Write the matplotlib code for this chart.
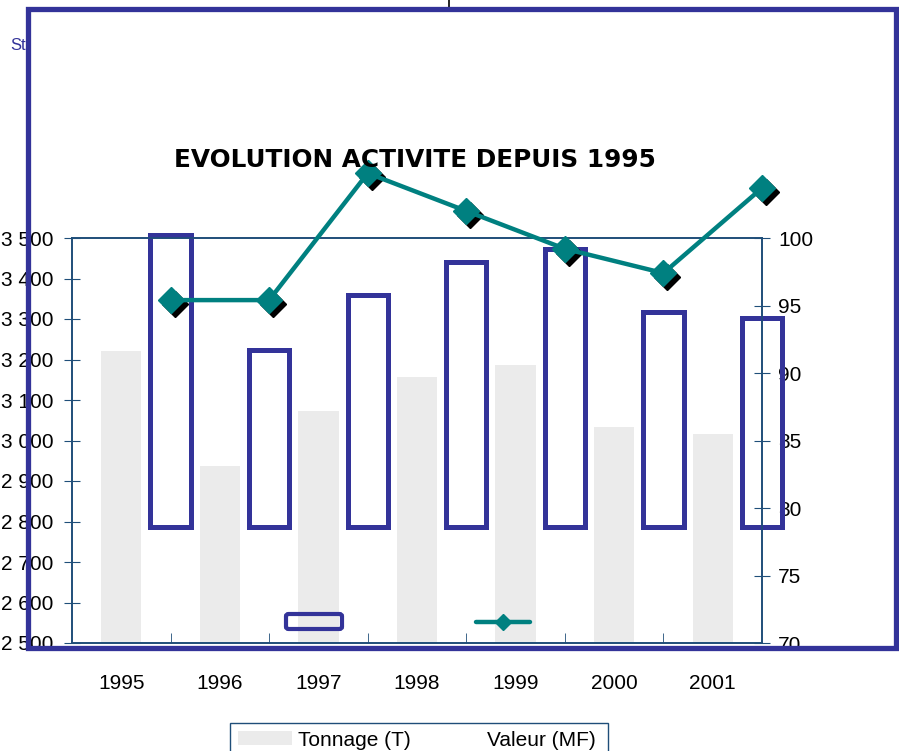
import numpy as np
import matplotlib.pyplot as plt
from matplotlib.patches import Rectangle, FancyBboxPatch
from matplotlib.lines import Line2D
from matplotlib.ticker import FuncFormatter
import matplotlib.transforms as mtransforms

plt.rcParams['font.family'] = ['Liberation Sans', 'DejaVu Sans']

years = ['1995', '1996', '1997', '1998', '1999', '2000', '2001']
tonnage = [3221, 2937, 3073, 3157, 3186, 3033, 3016]
valeur = [95.4, 95.4, 104.8, 102.0, 99.2, 97.4, 103.7]
box_top = [100.2, 91.7, 95.8, 98.2, 99.2, 94.5, 94.1]
box_base = 78.6

blue = '#333399'
axcol = '#1f4e79'
teal = '#008080'

W, H = 899, 751
fig = plt.figure(figsize=(W / 100, H / 100), dpi=100)

def fx(px):
    return px / W

def fy(py):
    return 1 - py / H

ax = fig.add_axes([fx(72), fy(643), fx(762) - fx(72), fy(238) - fy(643)])
x = np.arange(len(years))

ax.bar(x, tonnage, width=0.41, color='#ebebeb', bottom=0, zorder=1)
ax.set_xlim(-0.5, len(years) - 0.5)
ax.set_ylim(2500, 3500)
ax.set_yticks(np.arange(2500, 3501, 100))
ax.yaxis.set_major_formatter(FuncFormatter(lambda v, p: '{:,.0f}'.format(v).replace(',', ' ')))
ax.set_xticks(x)
ax.set_xticklabels(years)
ax.set_xticks(x[:-1] + 0.5, minor=True)
ax.tick_params(axis='x', which='major', length=0, pad=22, labelsize=15)
ax.tick_params(axis='x', which='minor', direction='in', length=7, color=axcol)
ax.tick_params(axis='y', direction='inout', length=11, color=axcol, labelsize=15, pad=8)
for s in ax.spines.values():
    s.set_color(axcol)
    s.set_linewidth(1.2)

ax2 = ax.twinx()
ax2.set_ylim(70, 100)
ax2.set_yticks(np.arange(70, 101, 5))
ax2.tick_params(axis='y', direction='inout', length=11, color=axcol, labelsize=15, pad=6)
for s in ax2.spines.values():
    s.set_color(axcol)
    s.set_linewidth(1.2)

heights = [t - box_base for t in box_top]
ax2.bar(x + 0.5, heights, bottom=box_base, width=0.41, facecolor='none',
        edgecolor=blue, linewidth=3.6, clip_on=False, zorder=2)

shadow = mtransforms.offset_copy(ax2.transData, fig=fig, x=4, y=-4, units='dots')
ax2.plot(x + 0.5, valeur, linestyle='none', marker='D', markersize=13,
         color='black', transform=shadow, clip_on=False, zorder=3)
ax2.plot(x + 0.5, valeur, color=teal, linewidth=3.2, marker='D', markersize=13,
         markeredgecolor=teal, clip_on=False, zorder=4)

# title
fig.text(fx(415), fy(160), 'EVOLUTION ACTIVITE DEPUIS 1995', ha='center', va='center',
         fontsize=17.8, fontweight='bold', family='DejaVu Sans')

# misplaced legend keys inside the plot
fig.patches.append(FancyBboxPatch((fx(286), fy(629)), fx(342) - fx(286), fy(614) - fy(629),
                                  boxstyle='round,pad=0,rounding_size=0.003', transform=fig.transFigure,
                                  facecolor='none', edgecolor=blue, linewidth=3))
fig.lines.append(Line2D([fx(476), fx(530)], [fy(622), fy(622)], transform=fig.transFigure,
                        color=teal, linewidth=3.2, solid_capstyle='round'))
fig.lines.append(Line2D([fx(503)], [fy(622)], transform=fig.transFigure, marker='D',
                        markersize=8, color=teal))

# outer frame
fig.patches.append(Rectangle((fx(28), fy(648)), fx(896) - fx(28), fy(9) - fy(648),
                             transform=fig.transFigure, facecolor='none',
                             edgecolor=blue, linewidth=3.8, zorder=5))
fig.text(fx(10), fy(45), 'St', color=blue, fontsize=12, va='center', ha='left')
fig.lines.append(Line2D([fx(449), fx(449)], [fy(0), fy(7)], transform=fig.transFigure,
                        color='black', linewidth=1.2))

# bottom legend
fig.patches.append(Rectangle((fx(230), fy(755)), fx(608) - fx(230), fy(723) - fy(755),
                             transform=fig.transFigure, facecolor='white',
                             edgecolor=axcol, linewidth=1))
fig.patches.append(Rectangle((fx(238), fy(745)), fx(292) - fx(238), fy(731) - fy(745),
                             transform=fig.transFigure, facecolor='#ebebeb', edgecolor='none'))
fig.text(fx(298), fy(740), 'Tonnage (T)', fontsize=15, va='center', ha='left')
fig.text(fx(487), fy(740), 'Valeur (MF)', fontsize=15, va='center', ha='left')

fig.savefig('out.png', dpi=100)
